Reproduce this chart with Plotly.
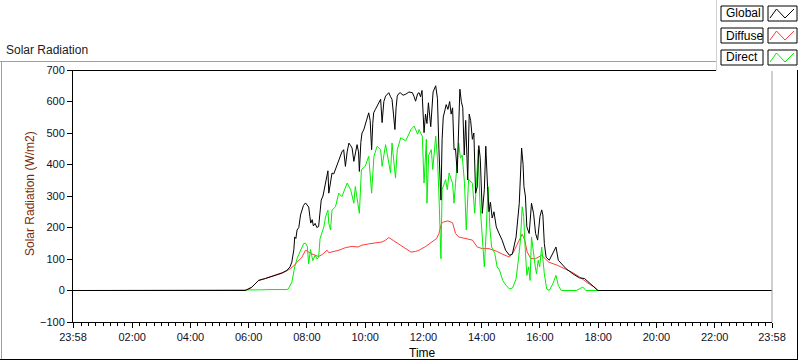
import plotly.graph_objects as go

# ---------------- data (time in decimal hours, 23:58 of previous day = -0.033) ----------------
global_t = [-0.033, 5.88, 6.10, 6.34, 6.57, 6.80, 7.00, 7.14, 7.31, 7.42, 7.48, 7.55, 7.58, 7.62, 7.66, 7.72, 7.78, 7.83, 7.88, 7.95,
            8.01, 8.06, 8.10, 8.13, 8.18, 8.22, 8.28, 8.34, 8.40, 8.45, 8.49, 8.55, 8.61, 8.66, 8.69, 8.72, 8.75, 8.80, 8.86, 8.92,
            8.98, 9.05, 9.10, 9.15, 9.20, 9.26, 9.32, 9.38, 9.44, 9.50, 9.55, 9.61, 9.66, 9.72, 9.77, 9.80, 9.85, 9.89, 9.95, 10.00,
            10.06, 10.12, 10.17, 10.22, 10.26, 10.29, 10.35, 10.41, 10.47, 10.53, 10.58, 10.64, 10.70, 10.76, 10.81, 10.87, 10.92, 10.97, 11.02, 11.06,
            11.10, 11.15, 11.20, 11.30, 11.39, 11.50, 11.62, 11.68, 11.73, 11.80, 11.85, 11.90, 11.95, 12.02, 12.07, 12.12, 12.17, 12.25, 12.33, 12.42,
            12.48, 12.53, 12.56, 12.60, 12.64, 12.68, 12.73, 12.78, 12.84, 12.90, 12.95, 13.00, 13.05, 13.10, 13.16, 13.21, 13.25, 13.30, 13.35, 13.40,
            13.45, 13.52, 13.57, 13.62, 13.68, 13.73, 13.79, 13.85, 13.90, 13.95, 14.02, 14.09, 14.14, 14.20, 14.25, 14.30, 14.36, 14.42, 14.50, 14.60,
            14.70, 14.82, 14.95, 15.05, 15.18, 15.29, 15.33, 15.37, 15.42, 15.45, 15.50, 15.55, 15.63, 15.71, 15.78, 15.85, 15.92, 16.00, 16.06, 16.10,
            16.15, 16.21, 16.32, 16.44, 16.55, 16.63, 16.73, 16.90, 17.13, 17.36, 17.53, 17.70, 17.87, 17.99, 23.967]
global_v = [0, 0, 10, 32, 38, 45, 52, 55, 64, 75, 90, 130, 170, 165, 192, 200, 240, 255, 270, 278,
            270, 265, 235, 214, 225, 205, 213, 200, 203, 250, 287, 300, 330, 360, 373, 380, 309, 340, 373, 370,
            384, 400, 415, 426, 440, 447, 394, 440, 468, 460, 452, 410, 440, 463, 440, 378, 470, 500, 510, 527,
            545, 564, 540, 447, 530, 564, 575, 585, 595, 607, 533, 600, 617, 625, 628, 615, 607, 560, 511, 580,
            617, 625, 628, 620, 623, 630, 628, 615, 601, 625, 628, 615, 635, 501, 560, 530, 596, 520, 630, 650,
            610, 450, 383, 287, 480, 551, 570, 590, 575, 600, 560, 580, 447, 450, 373, 560, 639, 600, 580, 430,
            540, 351, 560, 540, 480, 500, 309, 330, 460, 420, 245, 320, 458, 330, 250, 280, 230, 250, 202, 180,
            160, 128, 112, 115, 170, 277, 380, 452, 400, 330, 300, 202, 181, 277, 245, 181, 160, 235, 256, 240,
            149, 106, 96, 120, 138, 96, 85, 69, 53, 40, 38, 23, 10, 0, 0]

diffuse_t = [-0.033, 5.88, 6.10, 6.34, 6.57, 6.80, 7.00, 7.14, 7.31, 7.51, 7.65, 7.83, 7.95, 8.05, 8.13, 8.28, 8.40, 8.52, 8.69, 8.75,
             8.98, 9.10, 9.32, 9.55, 9.75, 9.89, 10.12, 10.35, 10.58, 10.70, 10.81, 10.98, 11.15, 11.39, 11.57, 11.73, 11.85, 12.08, 12.30, 12.45,
             12.53, 12.62, 12.70, 12.84, 13.00, 13.10, 13.21, 13.45, 13.68, 13.85, 14.02, 14.25, 14.50, 14.72, 14.95, 15.09, 15.29, 15.39, 15.48, 15.56,
             15.69, 15.85, 16.06, 16.20, 16.30, 16.60, 16.90, 17.10, 17.36, 17.53, 17.70, 17.87, 17.99, 23.967]
diffuse_v = [0, 0, 10, 32, 38, 45, 52, 55, 62, 75, 90, 106, 128, 122, 118, 112, 108, 114, 128, 120,
             124, 128, 136, 140, 138, 144, 148, 152, 154, 160, 168, 158, 148, 133, 122, 124, 128, 140, 154, 165,
             181, 213, 218, 221, 215, 181, 170, 165, 160, 138, 133, 133, 125, 115, 106, 122, 160, 179, 160, 122,
             101, 101, 112, 98, 90, 80, 67, 58, 43, 30, 20, 11, 0, 0]

direct_t = [-0.033, 6.00, 6.40, 6.70, 7.00, 7.31, 7.36, 7.48, 7.58, 7.66, 7.77, 7.89, 7.95, 8.01, 8.06, 8.12, 8.20, 8.28, 8.35, 8.40,
            8.45, 8.58, 8.64, 8.72, 8.75, 8.81, 8.86, 8.98, 9.09, 9.20, 9.38, 9.50, 9.61, 9.66, 9.80, 9.87, 10.00, 10.12, 10.22, 10.30,
            10.41, 10.53, 10.58, 10.70, 10.87, 10.92, 11.04, 11.10, 11.22, 11.39, 11.57, 11.68, 11.80, 11.85, 11.90, 11.96, 12.02, 12.10, 12.12, 12.18,
            12.27, 12.32, 12.42, 12.48, 12.53, 12.60, 12.64, 12.76, 12.82, 12.88, 13.00, 13.05, 13.10, 13.16, 13.21, 13.27, 13.33, 13.41, 13.47, 13.55,
            13.68, 13.76, 13.88, 13.94, 14.00, 14.09, 14.15, 14.22, 14.28, 14.34, 14.45, 14.53, 14.61, 14.72, 14.84, 14.95, 15.06, 15.18, 15.27, 15.33,
            15.39, 15.44, 15.49, 15.55, 15.61, 15.66, 15.71, 15.77, 15.84, 15.88, 15.94, 15.99, 16.06, 16.15, 16.23, 16.32, 16.44, 16.55, 16.63, 16.73,
            17.25, 17.47, 17.58, 23.967]
direct_v = [0, 0, 2, 3, 2, 3, 5, 26, 75, 101, 125, 149, 150, 140, 85, 130, 95, 112, 100, 105,
            165, 202, 234, 255, 213, 192, 255, 266, 309, 298, 341, 320, 277, 330, 245, 384, 394, 426, 309, 426,
            458, 447, 394, 463, 373, 468, 357, 447, 485, 475, 511, 522, 496, 511, 500, 490, 341, 480, 277, 430,
            447, 384, 490, 420, 309, 101, 320, 352, 320, 373, 340, 277, 340, 405, 468, 420, 430, 340, 192, 352,
            341, 245, 447, 277, 180, 75, 180, 330, 200, 138, 117, 75, 65, 32, 16, 5, 8, 37, 106, 160,
            266, 235, 138, 48, 75, 32, 170, 117, 75, 53, 96, 75, 138, 53, 5, 0, 21, 48, 16, 0,
            0, 11, 0, 0]

x_tick_vals = [-0.033, 2, 4, 6, 8, 10, 12, 14, 16, 18, 20, 22, 23.967]
x_tick_text = ["23:58", "02:00", "04:00", "06:00", "08:00", "10:00", "12:00",
               "14:00", "16:00", "18:00", "20:00", "22:00", "23:58"]
series_names = ["Global", "Diffuse", "Direct"]
series_colors = ["#000000", "#ff3b3b", "#00ee00"]

# ---------------- layout geometry (pixels) ----------------
W, H = 800, 361
L, R, T, B = 73, 772, 70, 322
FONT = "Liberation Sans"


def px(x):
    return (x - L) / (R - L)


def py(y):
    return (B - y) / (B - T)


fig = go.Figure()
# draw order: diffuse, direct, global (global on top)
for name, t, v, col in [("Diffuse", diffuse_t, diffuse_v, series_colors[1]),
                        ("Direct", direct_t, direct_v, series_colors[2]),
                        ("Global", global_t, global_v, series_colors[0])]:
    fig.add_trace(go.Scatter(x=t, y=v, mode="lines", name=name, showlegend=False,
                             line=dict(color=col, width=1)))

shapes = []


def line(x0, y0, x1, y1, color, width=1):
    shapes.append(dict(type="line", xref="paper", yref="paper",
                       x0=px(x0), y0=py(y0), x1=px(x1), y1=py(y1),
                       line=dict(color=color, width=width), layer="above"))


# frame lines
line(0, 61.5, 717, 61.5, "#a0a0a0")
line(1.5, 61.5, 1.5, 359.5, "#a0a0a0")
line(0, 359.5, 798, 359.5, "#000000")
line(797.5, 70, 797.5, 359.5, "#000000")
line(73, 70.5, 717, 70.5, "#000000")
line(772, 71, 772, 322, "#a0a0a0")
line(716.5, 0, 716.5, 71, "#d0d0d0")

annotations = [dict(text="Solar Radiation", xref="paper", yref="paper", x=px(4), y=py(50),
                    xanchor="left", yanchor="middle", showarrow=False,
                    font=dict(family=FONT, size=12, color="#202020")),
               dict(text="Time", xref="paper", yref="paper", x=px(422), y=py(353),
                    xanchor="center", yanchor="middle", showarrow=False,
                    font=dict(family=FONT, size=12, color="#000000")),
               dict(text="Solar Radiation (W/m2)", xref="paper", yref="paper", x=px(30), y=py(194),
                    xanchor="center", yanchor="middle", showarrow=False, textangle=-90,
                    font=dict(family=FONT, size=12, color="#7a2a08"))]

# legend boxes
leg_y = [(6, 21), (28, 43), (50, 65)]
for (y0, y1), name, col in zip(leg_y, series_names, series_colors):
    shapes.append(dict(type="rect", xref="paper", yref="paper", x0=px(721), x1=px(763),
                       y0=py(y1), y1=py(y0), line=dict(color="#000000", width=1), fillcolor="white"))
    shapes.append(dict(type="rect", xref="paper", yref="paper", x0=px(768), x1=px(797),
                       y0=py(y1), y1=py(y0), line=dict(color="#000000", width=1), fillcolor="white"))
    pts = [(770, y1 - 3), (776.5, y0 + 3), (785, y1 - 3), (794, y0 + 3)]
    path = "M " + " L ".join(f"{px(a)},{py(b)}" for a, b in pts)
    shapes.append(dict(type="path", xref="paper", yref="paper", path=path,
                       line=dict(color=col, width=1)))
    annotations.append(dict(text=name, xref="paper", yref="paper", x=px(723.5), y=py((y0 + y1) / 2),
                            xanchor="left", yanchor="middle", showarrow=False,
                            font=dict(family=FONT, size=12, color="#000000")))

fig.update_layout(
    width=W, height=H,
    margin=dict(l=L, r=W - R, t=T, b=H - B, pad=0),
    paper_bgcolor="white", plot_bgcolor="white",
    font=dict(family=FONT, size=11, color="#000000"),
    shapes=shapes, annotations=annotations,
    showlegend=False,
    xaxis=dict(range=[-0.033, 23.967], tickvals=x_tick_vals, ticktext=x_tick_text, automargin=False,
               ticks="outside", ticklen=5, tickcolor="#000000", showgrid=False, zeroline=False,
               showline=True, linecolor="#000000", linewidth=1,
               minor=dict(dtick=0.25, tick0=0, ticks="outside", ticklen=3, tickcolor="#000000", showgrid=False),
               tickfont=dict(family=FONT, size=11, color="#10102a")),
    yaxis=dict(range=[-100, 700], dtick=100, ticks="outside", ticklen=5, tickcolor="#000000", automargin=False,
               showgrid=False, zeroline=False, showline=True, linecolor="#000000", linewidth=1,
               tickfont=dict(family=FONT, size=11, color="#10102a")),
)

fig.write_html("out.html", config={"displayModeBar": False},
               post_script="document.body.style.margin='0';document.body.style.overflow='hidden';")
